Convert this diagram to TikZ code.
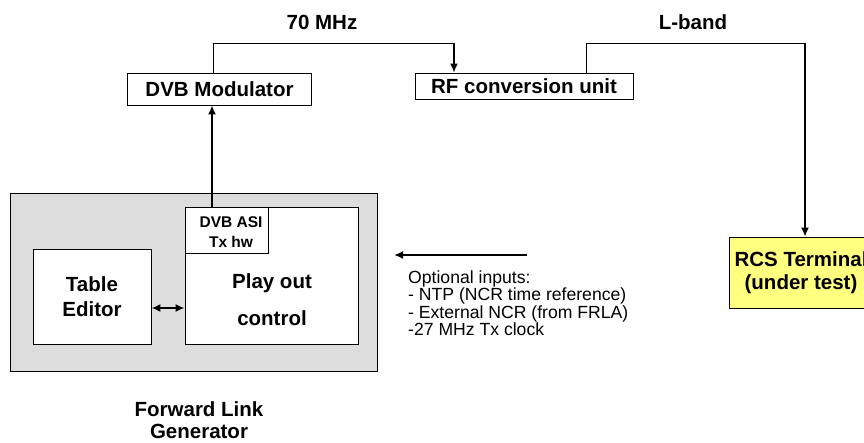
\documentclass[tikz,border=0pt]{standalone}
\usepackage{fontspec}
\setmainfont{Liberation Sans}
\usetikzlibrary{arrows.meta}
\definecolor{boxgrey}{RGB}{221,221,221}
\definecolor{termyellow}{RGB}{255,255,128}
\tikzset{
  thinline/.style={line width=0.9pt, draw=black},
  thickarr/.style={line width=1.8pt, draw=black, -{Latex[length=9pt,width=8pt]}},
  dblarr/.style={line width=1.8pt, draw=black, {Latex[length=9pt,width=8pt]}-{Latex[length=9pt,width=8pt]}},
  boxw/.style={draw=black, line width=0.8pt, fill=white, inner sep=0pt, align=center},
  bigtxt/.style={font=\fontsize{20.5}{23}\selectfont\bfseries, align=center, inner sep=0pt},
}
\begin{document}
\begin{tikzpicture}[x=1pt,y=-1pt]
\useasboundingbox (0,0) rectangle (864,443);
\clip (0,0) rectangle (864,443);

% labels on top
\node[bigtxt] (t70) at (322,22) {70 MHz};
\node[bigtxt] (tlb) at (693,22) {L-band};

% boxes
\node[boxw, minimum width=184pt, minimum height=32pt, font=\fontsize{20.5}{23}\selectfont\bfseries] (dvb) at (219.5,89) {DVB Modulator};
\node[boxw, minimum width=218pt, minimum height=26pt, font=\fontsize{20.5}{23}\selectfont\bfseries] (rf) at (524,86) {RF conversion unit};
\node[boxw, fill=termyellow, minimum width=144pt, minimum height=71pt, font=\fontsize{20.5}{23}\selectfont\bfseries] (rcs) at (801,272.5) {RCS Terminal\\(under test)};

% forward link generator
\node[draw=black, line width=0.9pt, fill=boxgrey, minimum width=367pt, minimum height=178pt, inner sep=0pt] (flg) at (193.5,282) {};
\node[boxw, minimum width=118pt, minimum height=95pt, font=\fontsize{20.5}{25}\selectfont\bfseries] (tab) at (92,297) {Table\\Editor};
\node[boxw, minimum width=173pt, minimum height=137pt] (play) at (271.5,275.5) {};
\node[bigtxt, font=\fontsize{20.5}{37}\selectfont\bfseries] (playtxt) at (272,300) {Play out\\control};
\node[boxw, minimum width=83pt, minimum height=46pt] (asi) at (226.5,230) {};
\node[bigtxt, font=\fontsize{15.5}{20}\selectfont\bfseries] (asitxt) at (231,232) {DVB ASI\\Tx hw};
\node[bigtxt, font=\fontsize{20.5}{22}\selectfont\bfseries] (flgtxt) at (199,420) {Forward Link\\Generator};

% optional inputs
\node[font=\fontsize{17.6}{17.5}\selectfont, align=left, inner sep=0pt, anchor=west] (opt) at (408,303)
  {Optional inputs:\\- NTP (NCR time reference)\\- External NCR (from FRLA)\\-27 MHz Tx clock};

% coordinates
\coordinate (k1) at (213,43);
\coordinate (k2) at (454,43);
\coordinate (k3) at (586,43);
\coordinate (k4) at (805,43);
\coordinate (xa) at (212,0);
\coordinate (dy) at (0,308);
\coordinate (oa) at (527,255);
\coordinate (ob) at (394,255);

% connectors
\draw[thinline] (dvb.north -| k1) -- (k1) -- (k2);
\draw[thickarr] (k2) -- (rf.north -| k2);
\draw[thinline] (rf.north -| k3) -- (k3) -- (k4);
\draw[thickarr] (k4) -- (rcs.north -| k4);
\draw[thickarr] (asi.north -| xa) -- (dvb.south -| xa);
\draw[dblarr] (tab.east |- dy) -- (play.west |- dy);
\draw[thickarr] (oa) -- (ob);
\end{tikzpicture}
\end{document}
